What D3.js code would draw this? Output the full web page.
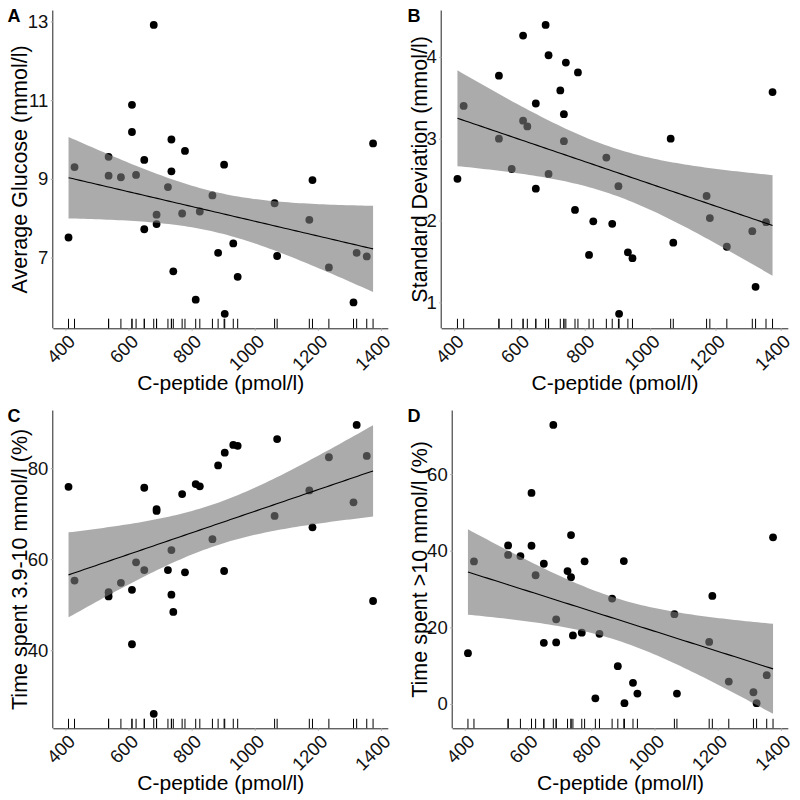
<!DOCTYPE html>
<html>
<head>
<meta charset="utf-8">
<script src="https://cdn.jsdelivr.net/npm/d3@7"></script>
<style>
  html, body { margin: 0; padding: 0; background: #fff; }
  svg { display: block; font-family: "Liberation Sans", Arial, sans-serif; }
</style>
</head>
<body>
<svg id="chart" width="800" height="800"></svg>
<script>
// ---- Data ----
const cPeptide = [410, 429, 537, 537, 576, 611, 611, 624, 650, 650, 680, 689, 689, 725, 736, 736, 742, 770, 779, 813, 826, 866, 884, 903, 905, 932, 946, 1063, 1071, 1173, 1183, 1235, 1313, 1323, 1355, 1375];
const avgGlucose = [7.51, 9.30, 9.56, 9.08, 9.04, 10.88, 10.19, 9.10, 9.48, 7.72, 12.91, 8.09, 7.85, 8.79, 10.0, 9.19, 6.65, 8.12, 9.71, 5.93, 8.17, 8.58, 7.12, 9.36, 5.57, 7.36, 6.51, 8.38, 7.04, 7.96, 8.97, 6.75, 5.86, 7.12, 7.03, 9.9];
const sdGlucose = [2.51, 3.40, 3.77, 3.00, 2.63, 4.26, 3.22, 3.15, 3.43, 2.39, 4.39, 4.02, 2.57, 3.59, 3.30, 2.97, 3.93, 2.13, 3.81, 1.58, 1.99, 2.77, 1.96, 2.42, 0.86, 1.61, 1.54, 3.00, 1.73, 2.30, 2.03, 1.68, 1.87, 1.19, 1.98, 3.57];
const timeInRange = [75.9, 55.3, 51.8, 52.75, 54.8, 41.3, 53.25, 59.3, 57.6, 75.7, 26.0, 70.6, 71.0, 57.6, 52.2, 62.0, 48.4, 74.3, 57.1, 76.5, 76.0, 64.4, 80.6, 57.4, 83.4, 85.1, 84.9, 69.5, 86.4, 75.1, 67.0, 82.4, 72.5, 89.5, 82.7, 50.8];
const timeAbove = [13.25, 37.2, 41.4, 38.9, 38.6, 55.1, 41.3, 33.6, 36.6, 15.95, 72.85, 22.1, 16.05, 34.7, 44.1, 33.1, 17.9, 18.6, 37.25, 1.47, 18.3, 27.5, 9.85, 37.3, 0.2, 5.5, 2.7, 23.45, 2.7, 16.2, 28.2, 5.84, 3.05, 0.2, 7.5, 43.5];

// fitted line and 95% band (value at lowest / highest C-peptide)
const fitAtMin = [9.03, 3.25, 56.55, 34.45];
const fitAtMax = [7.22, 1.94, 79.4, 9.16];
const bandHalfAtMin = [1.035, 0.585, 9.34, 11.15];
const bandHalfAtMax = [1.095, 0.615, 10.05, 11.75];

const xTicks = [400, 600, 800, 1000, 1200, 1400];
const panelTags = ["A", "B", "C", "D"];
const yTitles = ["Average Glucose (mmol/l)", "Standard Deviation (mmol/l)", "Time spent 3.9-10 mmol/l (%)", "Time spent >10 mmol/l (%)"];
const yTicksA = [7, 9, 11, 13];
const yTicksB = [1, 2, 3, 4];
const yTicksC = [40, 60, 80];
const yTicksD = [0, 20, 40, 60];
const xTitle = "C-peptide (pmol/l)";

// ---- Layout ----
const panels = [
  { y: avgGlucose, ticks: yTicksA, left: 53.3, right: 388.3, top: 10.5, bottom: 328.3, ox: 0, oy: 0 },
  { y: sdGlucose, ticks: yTicksB, left: 441.7, right: 788.3, top: 10.5, bottom: 328.3, ox: 400, oy: 0 },
  { y: timeInRange, ticks: yTicksC, left: 53.3, right: 388.3, top: 410.5, bottom: 728.3, ox: 0, oy: 400 },
  { y: timeAbove, ticks: yTicksD, left: 452.7, right: 788.3, top: 410.5, bottom: 728.3, ox: 400, oy: 400 }
];

// linear-model confidence band shape (hyperbolic half-width), matched to the band widths
function smoothBand(i) {
  const xs = cPeptide, n = xs.length;
  const mx = d3.mean(xs);
  const sxx = d3.sum(xs, v => (v - mx) ** 2);
  const q = n / sxx;
  const [x0, x1] = d3.extent(xs);
  const r2 = (bandHalfAtMin[i] / bandHalfAtMax[i]) ** 2;
  let lo = x0, hi = x1;
  for (let k = 0; k < 60; k++) {
    const c = (lo + hi) / 2;
    const f = (1 + q * (c - x0) ** 2) / (1 + q * (x1 - c) ** 2) - r2;
    if (f > 0) hi = c; else lo = c;
  }
  const c = (lo + hi) / 2;
  const h0 = bandHalfAtMin[i] / Math.sqrt(1 + q * (c - x0) ** 2);
  return d3.range(80).map(k => {
    const x = x0 + (x1 - x0) * k / 79;
    const fit = fitAtMin[i] + (fitAtMax[i] - fitAtMin[i]) * (x - x0) / (x1 - x0);
    const h = h0 * Math.sqrt(1 + q * (x - c) ** 2);
    return { x, fit, lo: fit - h, hi: fit + h };
  });
}

const svg = d3.select("#chart");

panels.forEach((p, i) => {
  const data = cPeptide.map((x, k) => ({ x, y: p.y[k] }));
  const band = smoothBand(i);

  const xExt = d3.extent(cPeptide);
  const xPad = (xExt[1] - xExt[0]) * 0.05;
  const x = d3.scaleLinear().domain([xExt[0] - xPad, xExt[1] + xPad]).range([p.left, p.right]);

  const yMin = Math.min(d3.min(p.y), d3.min(band, d => d.lo));
  const yMax = Math.max(d3.max(p.y), d3.max(band, d => d.hi));
  const yPad = (yMax - yMin) * 0.05;
  const y = d3.scaleLinear().domain([yMin - yPad, yMax + yPad]).range([p.bottom, p.top]);

  const g = svg.append("g");

  // points
  g.append("g").selectAll("circle").data(data).join("circle")
    .attr("cx", d => x(d.x)).attr("cy", d => y(d.y)).attr("r", 3.9)
    .attr("fill", "#000");

  // confidence ribbon
  g.append("path").datum(band)
    .attr("d", d3.area().x(d => x(d.x)).y0(d => y(d.lo)).y1(d => y(d.hi)))
    .attr("fill", "#777777").attr("fill-opacity", 0.62);

  // fit line
  g.append("path").datum(band)
    .attr("d", d3.line().x(d => x(d.x)).y(d => y(d.fit)))
    .attr("fill", "none").attr("stroke", "#000").attr("stroke-width", 1.1);

  // rug
  const rugLen = (p.bottom - p.top) * 0.03;
  g.append("g").selectAll("line").data(cPeptide).join("line")
    .attr("x1", d => x(d)).attr("x2", d => x(d))
    .attr("y1", p.bottom).attr("y2", p.bottom - rugLen)
    .attr("stroke", "#000").attr("stroke-width", 1);

  // axes
  const xAxis = d3.axisBottom(x).tickValues(xTicks).tickFormat(d3.format("d")).tickSize(2.5).tickSizeOuter(0);
  const gx = g.append("g").attr("transform", `translate(0,${p.bottom})`).call(xAxis);
  gx.select(".domain").attr("stroke", "#222").attr("stroke-width", 1)
    .attr("d", `M${p.left},0.5H${p.right}`);
  gx.selectAll(".tick line").attr("stroke", "#aaa");
  gx.selectAll(".tick text")
    .attr("font-size", 18.5).attr("fill", "#111")
    .attr("text-anchor", "end")
    .attr("y", 0).attr("dy", "0.72em")
    .attr("transform", "translate(1,5) rotate(-45)");

  const yAxis = d3.axisLeft(y).tickValues(p.ticks).tickFormat(d3.format("d")).tickSize(2.5).tickSizeOuter(0).tickPadding(2.5);
  const gy = g.append("g").attr("transform", `translate(${p.left},0)`).call(yAxis);
  gy.select(".domain").attr("stroke", "#222").attr("stroke-width", 1)
    .attr("d", `M-0.5,${p.top}V${p.bottom}`);
  gy.selectAll(".tick line").attr("stroke", "#aaa");
  gy.selectAll(".tick text").attr("font-size", 18.5).attr("fill", "#111");

  // axis titles
  g.append("text")
    .attr("transform", `translate(${p.ox + 27},${(p.top + p.bottom) / 2}) rotate(-90)`)
    .attr("text-anchor", "middle").attr("font-size", 21.5).attr("fill", "#000")
    .text(yTitles[i]);
  g.append("text")
    .attr("x", (p.left + p.right) / 2).attr("y", p.oy + 390)
    .attr("text-anchor", "middle").attr("font-size", 21).attr("fill", "#000")
    .text(xTitle);

  // tag
  g.append("text")
    .attr("x", p.ox + 7.5).attr("y", p.oy + 22)
    .attr("font-size", 18).attr("font-weight", "bold").attr("fill", "#000")
    .text(panelTags[i]);
});
</script>
</body>
</html>
